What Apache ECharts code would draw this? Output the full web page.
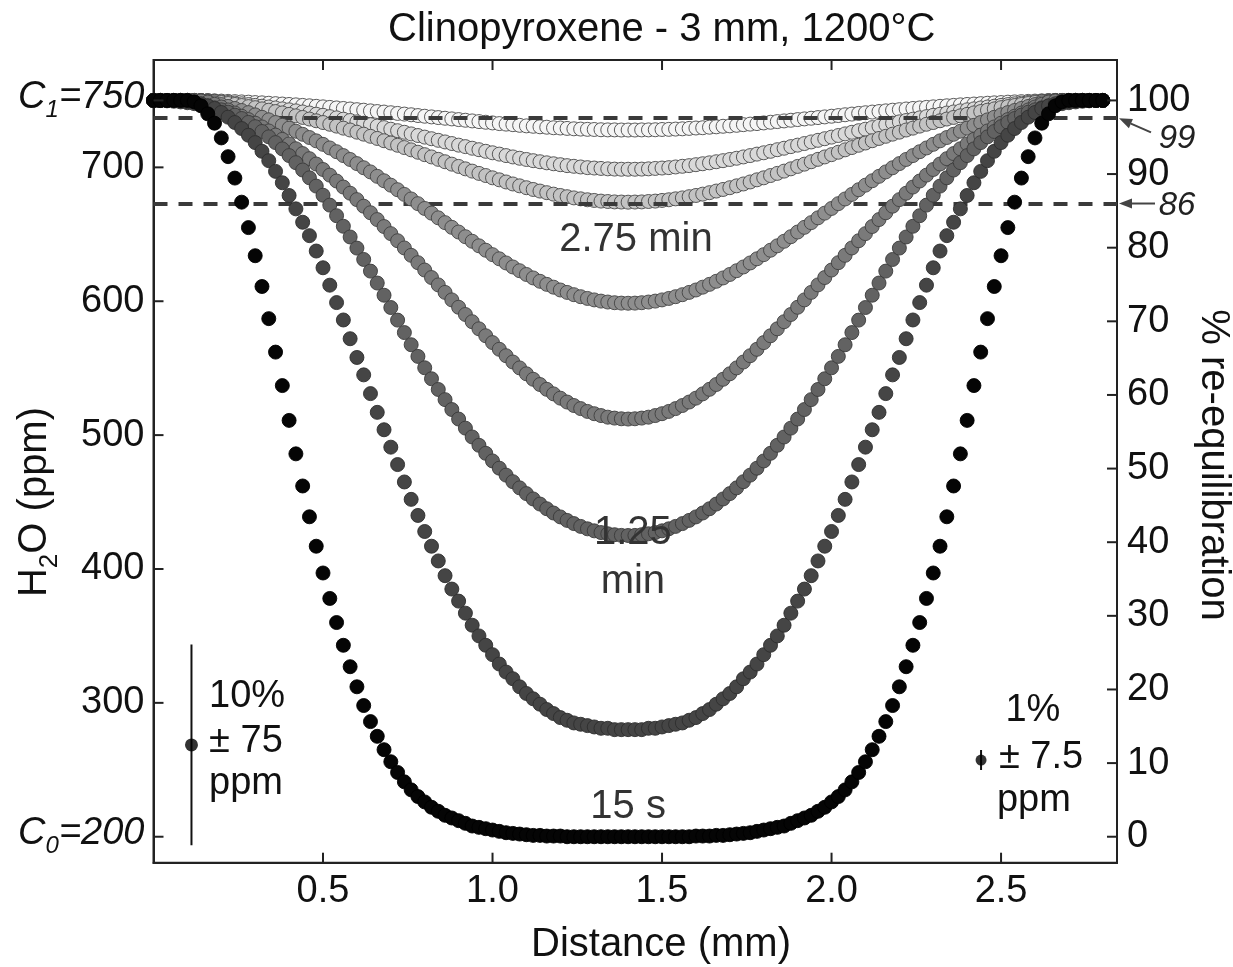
<!DOCTYPE html>
<html><head><meta charset="utf-8">
<script src="https://cdn.jsdelivr.net/npm/echarts@6/dist/echarts.min.js"></script>
<style>html,body{margin:0;padding:0;background:#fff}#c{width:1233px;height:967px}</style>
</head><body><div id="c"></div>
<script>
// ---------------- data ----------------
const distanceMm = [0,0.02,0.04,0.06,0.08,0.1,0.12,0.14,0.16,0.18,0.2,0.22,0.24,0.26,0.28,0.3,0.32,0.34,0.36,0.38,0.4,0.42,0.44,0.46,0.48,0.5,0.52,0.54,0.56,0.58,0.6,0.62,0.64,0.66,0.68,0.7,0.72,0.74,0.76,0.78,0.8,0.82,0.84,0.86,0.88,0.9,0.92,0.94,0.96,0.98,1,1.02,1.04,1.06,1.08,1.1,1.12,1.14,1.16,1.18,1.2,1.22,1.24,1.26,1.28,1.3,1.32,1.34,1.36,1.38,1.4,1.42,1.44,1.46,1.48,1.5,1.52,1.54,1.56,1.58,1.6,1.62,1.64,1.66,1.68,1.7,1.72,1.74,1.76,1.78,1.8,1.82,1.84,1.86,1.88,1.9,1.92,1.94,1.96,1.98,2,2.02,2.04,2.06,2.08,2.1,2.12,2.14,2.16,2.18,2.2,2.22,2.24,2.26,2.28,2.3,2.32,2.34,2.36,2.38,2.4,2.42,2.44,2.46,2.48,2.5,2.52,2.54,2.56,2.58,2.6,2.62,2.64,2.66,2.68,2.7,2.72,2.74,2.76,2.78,2.8];

// H2O (ppm) profiles, earliest (15 s) to latest
const h2o15s = [750,750,750,750,750,750,749,746,740,733,722,708,692,674,655,634,611,587,562,537,511,486,462,439,417,397,378,360,343,327,312,298,286,275,265,256,248,241,235,230,226,222,219,216,214,212,210,208,207,206,205,204,203,202.5,202,201.5,201,201,200.5,200.5,200.5,200,200,200,200,200,200,200,200,200,200,
200,200,200,200,200,200,200,200,200,200.5,200.5,200.5,201,201,201.5,202,202.5,203,204,205,206,207,208,210,212,214,216,219,222,226,230,235,241,248,256,265,275,286,298,312,327,343,360,378,397,417,439,462,486,511,537,562,587,611,634,655,674,692,708,722,733,740,746,749,750,750,750,750,750,750];
const h2oT2 = [750,750,750,750,749.5,749,748.5,747.5,746,744,741,737.5,733.5,729,724,718.5,712,705,697,688.5,679,669,659,649,637.5,625,612,599,586,572,558,545,531,517,504,491,478,465,452,440,428,417,406,395,385,376,367,358,350,343,336,329,323,318,312,307,303,299,295,292,289,287,285,284,283,282,281,281,280,280,280,
280,280,281,281,282,283,284,285,287,289,292,295,299,303,307,312,318,323,329,336,343,350,358,367,376,385,395,406,417,428,440,452,465,478,491,504,517,531,545,558,572,586,599,612,625,637.5,649,659,669,679,688.5,697,705,712,718.5,724,729,733.5,737.5,741,744,746,747.5,748.5,749,749.5,750,750,750,750];
const h2o125min = [750,749.9,749.7,749.4,748.9,748.3,747.6,746.8,745.8,744.5,743,741.2,739,736.5,733.6,730.4,726.8,722.8,718.5,713.8,708.8,703.5,698,692.2,686,679.2,671.8,663.9,656,648,639.7,631.2,622.5,613.6,604.5,595.3,585.9,576.6,567.5,558.8,550.3,542.1,534.1,526.5,519.1,512,505.2,498.6,492.4,486.4,480.7,475.3,470.1,465.2,460.6,456.3,452.3,448.5,445,441.8,438.9,436.3,433.9,431.8,430,428.5,427.2,426.3,425.6,425.1,425,
425.1,425.6,426.3,427.2,428.5,430,431.8,433.9,436.3,438.9,441.8,445,448.5,452.3,456.3,460.6,465.2,470.1,475.3,480.7,486.4,492.4,498.6,505.2,512,519.1,526.5,534.1,542.1,550.3,558.8,567.5,576.6,585.9,595.3,604.5,613.6,622.5,631.2,639.7,648,656,663.9,671.8,679.2,686,692.2,698,703.5,708.8,713.8,718.5,722.8,726.8,730.4,733.6,736.5,739,741.2,743,744.5,745.8,746.8,747.6,748.3,748.9,749.4,749.7,749.9,750];
const h2oT4 = [750,750,750,750,750,750,750,749.6,748.8,747.1,745.1,742.9,740.6,738.2,735.7,733,730.2,727.2,724.1,720.9,717.5,713.9,710.3,706.5,702.5,698.4,694.2,689.8,685.3,680.7,675.9,671,666.1,661,655.8,650.5,645.2,639.8,634.3,628.8,623.3,617.7,612.2,606.6,601,595.5,590.1,584.7,579.4,574.2,569.1,564.1,559.3,554.6,550.2,545.8,541.7,537.8,534.2,530.8,527.6,524.7,522.1,519.8,517.7,516,514.6,513.4,512.7,512.2,512,
512.2,512.7,513.4,514.6,516,517.7,519.8,522.1,524.7,527.6,530.8,534.2,537.8,541.7,545.8,550.2,554.6,559.3,564.1,569.1,574.2,579.4,584.7,590.1,595.5,601,606.6,612.2,617.7,623.3,628.8,634.3,639.8,645.2,650.5,655.8,661,666.1,671,675.9,680.7,685.3,689.8,694.2,698.4,702.5,706.5,710.3,713.9,717.5,720.9,724.1,727.2,730.2,733,735.7,738.2,740.6,742.9,745.1,747.1,748.8,749.6,750,750,750,750,750,750,750];
const h2o275min = [750,750,750,750,750,750,750,749.8,749.2,748.2,746.9,745.5,744,742.5,740.9,739.2,737.4,735.5,733.5,731.4,729.3,727,724.7,722.3,719.8,717.2,714.5,711.7,708.8,705.9,702.8,699.7,696.6,693.3,690,686.7,683.3,679.8,676.4,672.9,669.3,665.8,662.3,658.7,655.2,651.7,648.2,644.8,641.4,638.1,634.8,631.7,628.6,625.6,622.8,620,617.4,614.9,612.6,610.5,608.4,606.6,604.9,603.4,602.1,601,600.1,599.4,598.9,598.6,598.5,
598.6,598.9,599.4,600.1,601,602.1,603.4,604.9,606.6,608.4,610.5,612.6,614.9,617.4,620,622.8,625.6,628.6,631.7,634.8,638.1,641.4,644.8,648.2,651.7,655.2,658.7,662.3,665.8,669.3,672.9,676.4,679.8,683.3,686.7,690,693.3,696.6,699.7,702.8,705.9,708.8,711.7,714.5,717.2,719.8,722.3,724.7,727,729.3,731.4,733.5,735.5,737.4,739.2,740.9,742.5,744,745.5,746.9,748.2,749.2,749.8,750,750,750,750,750,750,750];
const h2oT6 = [750,750,750,750,750,750,750,749.9,749.6,749.1,748.4,747.7,747,746.2,745.4,744.6,743.7,742.7,741.7,740.7,739.6,738.5,737.3,736.1,734.8,733.5,732.2,730.8,729.3,727.9,726.3,724.8,723.2,721.6,719.9,718.2,716.5,714.8,713.1,711.3,709.5,707.8,706,704.2,702.4,700.7,698.9,697.2,695.5,693.9,692.2,690.7,689.1,687.6,686.2,684.8,683.5,682.3,681.1,680,679,678.1,677.2,676.5,675.8,675.3,674.8,674.5,674.2,674.1,674,
674.1,674.2,674.5,674.8,675.3,675.8,676.5,677.2,678.1,679,680,681.1,682.3,683.5,684.8,686.2,687.6,689.1,690.7,692.2,693.9,695.5,697.2,698.9,700.7,702.4,704.2,706,707.8,709.5,711.3,713.1,714.8,716.5,718.2,719.9,721.6,723.2,724.8,726.3,727.9,729.3,730.8,732.2,733.5,734.8,736.1,737.3,738.5,739.6,740.7,741.7,742.7,743.7,744.6,745.4,746.2,747,747.7,748.4,749.1,749.6,749.9,750,750,750,750,750,750,750];
const h2oT7 = [750,750,750,750,750,750,750,749.9,749.7,749.4,748.9,748.5,748,747.5,746.9,746.3,745.7,745.1,744.4,743.7,743,742.2,741.4,740.6,739.7,738.9,737.9,737,736,735,734,733,731.9,730.8,729.7,728.5,727.4,726.2,725,723.8,722.6,721.4,720.2,719,717.8,716.6,715.5,714.3,713.2,712,710.9,709.9,708.8,707.8,706.8,705.9,705,704.2,703.4,702.7,702,701.3,700.8,700.3,699.8,699.5,699.2,698.9,698.7,698.6,698.6,
698.6,698.7,698.9,699.2,699.5,699.8,700.3,700.8,701.3,702,702.7,703.4,704.2,705,705.9,706.8,707.8,708.8,709.9,710.9,712,713.2,714.3,715.5,716.6,717.8,719,720.2,721.4,722.6,723.8,725,726.2,727.4,728.5,729.7,730.8,731.9,733,734,735,736,737,737.9,738.9,739.7,740.6,741.4,742.2,743,743.7,744.4,745.1,745.7,746.3,746.9,747.5,748,748.5,748.9,749.4,749.7,749.9,750,750,750,750,750,750,750];
const h2oT8 = [750,750,750,750,750,750,750,750,749.9,749.7,749.5,749.3,749.1,748.9,748.7,748.4,748.2,747.9,747.6,747.3,747,746.7,746.3,746,745.6,745.2,744.8,744.4,744,743.6,743.1,742.7,742.2,741.7,741.3,740.8,740.3,739.8,739.3,738.7,738.2,737.7,737.2,736.7,736.2,735.7,735.2,734.7,734.2,733.7,733.2,732.7,732.3,731.9,731.4,731,730.7,730.3,730,729.6,729.4,729.1,728.8,728.6,728.4,728.3,728.1,728,728,727.9,727.9,
727.9,728,728,728.1,728.3,728.4,728.6,728.8,729.1,729.4,729.6,730,730.3,730.7,731,731.4,731.9,732.3,732.7,733.2,733.7,734.2,734.7,735.2,735.7,736.2,736.7,737.2,737.7,738.2,738.7,739.3,739.8,740.3,740.8,741.3,741.7,742.2,742.7,743.1,743.6,744,744.4,744.8,745.2,745.6,746,746.3,746.7,747,747.3,747.6,747.9,748.2,748.4,748.7,748.9,749.1,749.3,749.5,749.7,749.9,750,750,750,750,750,750,750,750];

const leftTickValues = [200,300,400,500,600,700,750];
const rightTickValues = [0,10,20,30,40,50,60,70,80,90,100];
const xTickValues = [0.5,1.0,1.5,2.0,2.5];
const refPercents = [97.7, 86];
const refLabels = ['99', '86'];
const errX = [0.112, 2.441];
const errPpm = [268.6, 257.3];
const errHalf = [75, 7.5];
const C0 = 200, C1 = 750;

// ---------------- styling ----------------
const FONT = '"Liberation Sans", Arial, Helvetica, sans-serif';
const TXT = '#111';
const AX = '#222';
const X_MIN = 0, X_MAX = 2.842, Y_MIN = 180.6, Y_MAX = 780.2;
const toPct = v => (v - C0) / (C1 - C0) * 100;

const profiles = [
  { data: h2oT8, fill: '#f5f5f5', border: '#4a4a4a' },
  { data: h2oT7, fill: '#d9d9d9', border: '#4a4a4a' },
  { data: h2oT6, fill: '#c3c3c3', border: '#474747' },
  { data: h2o275min, fill: '#8e8e8e', border: '#444' },
  { data: h2oT4, fill: '#7a7a7a', border: '#3f3f3f' },
  { data: h2o125min, fill: '#626262', border: '#3a3a3a' },
  { data: h2oT2, fill: '#454545', border: '#2e2e2e' },
  { data: h2o15s, fill: '#050505', border: '#000' }
];

const chart = echarts.init(document.getElementById('c'), null, { renderer: 'canvas' });

const series = [];
series.push({
  type: 'line', yAxisIndex: 1, data: [], z: 1, silent: true,
  markLine: {
    symbol: ['none', 'none'], silent: true, animation: false,
    label: { show: false },
    lineStyle: { color: '#3a3a3a', width: 4, type: [14, 11] },
    data: refPercents.map(v => ({ yAxis: v }))
  }
});
profiles.forEach((p, k) => {
  series.push({
    type: 'scatter', z: 2 + k, symbol: 'circle', symbolSize: 14,
    data: distanceMm.map((x, i) => [x, p.data[i]]),
    itemStyle: { color: p.fill, borderColor: p.border, borderWidth: 0.9, opacity: 1 },
    emphasis: { disabled: true }, silent: true
  });
});
errX.forEach((x, i) => {
  series.push({
    type: 'line', z: 20, symbol: 'none', silent: true,
    data: [[x, errPpm[i] - errHalf[i]], [x, errPpm[i] + errHalf[i]]],
    lineStyle: { color: '#111', width: 2 }
  });
  series.push({
    type: 'scatter', z: 21, symbolSize: i === 0 ? 13 : 11, silent: true,
    data: [[x, errPpm[i]]], itemStyle: { color: '#000' }
  });
});

const axisLineStyle = { color: AX, width: 2 };

chart.setOption({
  animation: false,
  backgroundColor: '#fff',
  title: {
    text: 'Clinopyroxene - 3 mm, 1200°C', left: 383, top: 5,
    textStyle: { fontFamily: FONT, fontSize: 40, fontWeight: 'normal', color: TXT }
  },
  grid: { left: 153.5, right: 116, top: 60, bottom: 104.3, containLabel: false, outerBoundsMode: 'none',
          show: true, borderColor: AX, borderWidth: 2, backgroundColor: 'rgba(0,0,0,0)' },
  xAxis: {
    type: 'value', min: X_MIN, max: X_MAX, position: 'bottom',
    axisLine: { show: true, onZero: false, lineStyle: axisLineStyle },
    axisTick: { show: false },
    axisLabel: { show: true, margin: 10, fontFamily: FONT, fontSize: 38, color: TXT, customValues: xTickValues, formatter: v => v.toFixed(1) },
    splitLine: { show: false }
  },
  yAxis: [{
    type: 'value', min: Y_MIN, max: Y_MAX, position: 'left',
    axisLine: { show: true, onZero: false, lineStyle: axisLineStyle },
    axisTick: { show: false },
    axisLabel: {
      show: true, margin: 9, fontFamily: FONT, fontSize: 38, color: TXT, customValues: leftTickValues,
      formatter: v => v === C1 ? '{i|C}{s|1}{i|=750}' : (v === C0 ? '{i|C}{s|0}{i|=200}' : String(v)),
      rich: {
        i: { fontFamily: FONT, fontSize: 38, fontStyle: 'italic', color: TXT, lineHeight: 44, verticalAlign: 'top' },
        s: { fontFamily: FONT, fontSize: 24, fontStyle: 'italic', color: TXT, lineHeight: 26, padding: [20, 0, 0, 0], verticalAlign: 'top' }
      }
    },
    splitLine: { show: false }
  }, {
    type: 'value', min: toPct(Y_MIN), max: toPct(Y_MAX), position: 'right',
    axisLine: { show: true, onZero: false, lineStyle: axisLineStyle },
    axisTick: { show: false },
    axisLabel: { show: true, margin: 10, fontFamily: FONT, fontSize: 38, color: TXT, customValues: rightTickValues },
    splitLine: { show: false }
  }],
  series: series
});

// ---------------- ticks, titles and annotations (placed through the axes) ----------------
const graphics = [];
const gx = v => chart.convertToPixel({ xAxisIndex: 0 }, v);
const gy = v => chart.convertToPixel({ yAxisIndex: 0 }, v);
const gp = v => chart.convertToPixel({ yAxisIndex: 1 }, v);
const L = gx(X_MIN), R = gx(X_MAX), T = gy(Y_MAX), B = gy(Y_MIN);
const TL = 10;
const tick = (x1, y1, x2, y2) => graphics.push({ type: 'line', z: 50, silent: true, shape: { x1, y1, x2, y2 }, style: { stroke: AX, lineWidth: 2 } });
xTickValues.forEach(v => { const x = gx(v); tick(x, B, x, B - TL); tick(x, T, x, T + TL); });
leftTickValues.forEach(v => { const y = gy(v); tick(L, y, L + TL, y); });
rightTickValues.forEach(v => { const y = gp(v); tick(R, y, R - TL, y); });

const textEl = (text, x, y, size, opts) => ({
  type: 'text', z: 100, silent: true,
  style: Object.assign({ text, x, y, fontFamily: FONT, fontSize: size, fill: TXT,
    align: 'center', verticalAlign: 'middle', textAlign: 'center', textVerticalAlign: 'middle' }, opts || {})
});

// axis titles
graphics.push(textEl('Distance (mm)', 661, 945, 40));
graphics.push({
  type: 'text', z: 100, silent: true, x: 38, y: 502, rotation: Math.PI / 2,
  style: {
    text: '{n|H}{s|2}{n|O (ppm)}', x: 0, y: 0, align: 'center', verticalAlign: 'middle', textAlign: 'center', textVerticalAlign: 'middle',
    rich: {
      n: { fontFamily: FONT, fontSize: 40, fill: TXT, lineHeight: 46, verticalAlign: 'top' },
      s: { fontFamily: FONT, fontSize: 26, fill: TXT, lineHeight: 28, padding: [22, 0, 0, 0], verticalAlign: 'top' }
    }
  }
});
graphics.push({
  type: 'text', z: 100, silent: true, x: 1213, y: 465, rotation: -Math.PI / 2,
  style: { text: '% re-equilibration', x: 0, y: 0, fontFamily: FONT, fontSize: 40, fill: TXT,
    align: 'center', verticalAlign: 'middle', textAlign: 'center', textVerticalAlign: 'middle' }
});

const notes = [
  { text: '2.75 min', x: 1.423, y: 645.7, align: 'center', size: 40, color: '#333' },
  { text: '1.25', x: 1.414, y: 427, align: 'center', size: 40, color: '#333' },
  { text: 'min', x: 1.414, y: 390, align: 'center', size: 40, color: '#333' },
  { text: '15 s', x: 1.40, y: 222, align: 'center', size: 40, color: '#333' },
  { text: '10%', x: 0.164, y: 304.6, align: 'left', size: 38, color: TXT },
  { text: '± 75', x: 0.164, y: 271, align: 'left', size: 38, color: TXT },
  { text: 'ppm', x: 0.164, y: 239.4, align: 'left', size: 38, color: TXT },
  { text: '1%', x: 2.594, y: 294.6, align: 'center', size: 38, color: TXT },
  { text: '± 7.5', x: 2.618, y: 259.5, align: 'center', size: 38, color: TXT },
  { text: 'ppm', x: 2.597, y: 227.4, align: 'center', size: 38, color: TXT }
];
notes.forEach(n => {
  graphics.push(textEl(n.text, gx(n.x), gy(n.y), n.size, { fill: n.color, align: n.align, textAlign: n.align }));
});

refPercents.forEach((v, i) => {
  const py = gp(v);
  const tip = [R + 2, py + (i === 0 ? 1 : 0)];
  const tail = i === 0 ? [R + 34, py + 15] : [R + 38, py];
  const dx = tip[0] - tail[0], dy = tip[1] - tail[1];
  const len = Math.sqrt(dx * dx + dy * dy), ux = dx / len, uy = dy / len;
  const hl = 13, hw = 5;
  const bx = tip[0] - ux * hl, by = tip[1] - uy * hl;
  graphics.push({ type: 'line', z: 100, silent: true, shape: { x1: tail[0], y1: tail[1], x2: bx, y2: by }, style: { stroke: '#444', lineWidth: 2 } });
  graphics.push({ type: 'polygon', z: 100, silent: true, shape: { points: [tip, [bx - uy * hw, by + ux * hw], [bx + uy * hw, by - ux * hw]] }, style: { fill: '#444' } });
  graphics.push(textEl(refLabels[i], R + 60, py + (i === 0 ? 21 : 2), 33, { fontStyle: 'italic', fill: '#222' }));
});
chart.setOption({ graphic: graphics });
</script>
</body></html>
